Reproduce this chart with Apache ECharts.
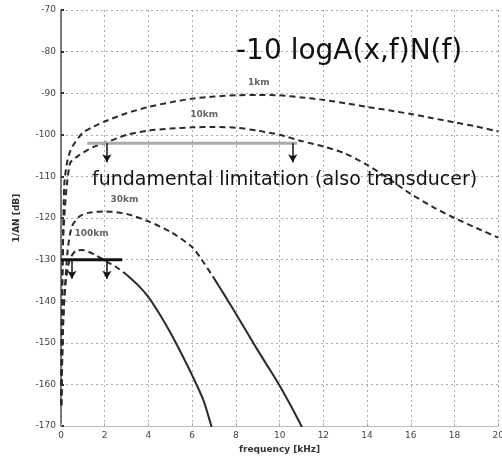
<!DOCTYPE html>
<html>
<head>
<meta charset="utf-8">
<script src="https://cdn.jsdelivr.net/npm/echarts@6/dist/echarts.min.js"></script>
<style>
  html, body { margin: 0; padding: 0; background: #fff; overflow: hidden; }
  /* the plot runs a little past the right edge of the window */
  #chart { width: 507px; height: 459px; }
</style>
</head>
<body>
<div id="chart"></div>
<script>
// Axis ticks
const xTicks = [0, 2, 4, 6, 8, 10, 12, 14, 16, 18, 20];
const yTicks = [-170, -160, -150, -140, -130, -120, -110, -100, -90, -80, -70];

// Curves: frequency [kHz] and level [dB]
const freq1km   = [0.01, 0.05, 0.15, 0.3, 0.5, 1, 1.5, 2, 3, 4, 5, 6, 7, 8, 9, 10, 11, 12, 13, 14, 15, 16, 17, 18, 19, 20];
const level1km  = [-165, -140, -112, -106, -103, -99.5, -98, -96.8, -94.8, -93.3, -92.2, -91.3, -90.8, -90.5, -90.4, -90.5, -91, -91.6, -92.4, -93.3, -94.1, -95, -96, -97, -98, -99.2];

const freq10km  = [0.01, 0.1, 0.4, 0.85, 1.45, 2, 3, 4, 5, 6, 7, 8, 9, 10, 11, 12, 13, 14, 15, 16, 17, 18, 19, 20];
const level10km = [-165, -125, -107, -104.8, -103, -102, -100, -99, -98.5, -98.2, -98.1, -98.3, -99, -100, -101.5, -102.8, -104.5, -107.2, -110.6, -114.2, -117.3, -120, -122.4, -124.7];

const freq30km  = [0.01, 0.1, 0.3, 0.5, 0.85, 1.3, 2, 3, 4, 5, 6, 6.5, 7, 7.5, 8, 8.5, 9, 9.5, 10, 10.5, 11, 11.2];
const level30km = [-165, -145, -128, -122, -119.6, -118.7, -118.4, -119, -120.8, -123.3, -127, -130.5, -134.5, -138.7, -143, -147.4, -151.8, -156, -160.3, -165, -170, -172];

const freq100km  = [0.01, 0.1, 0.2, 0.4, 0.7, 1, 1.5, 2, 2.5, 3, 3.5, 4, 4.5, 5, 5.5, 6, 6.5, 6.85, 7.2];
const level100km = [-165, -145, -136, -130, -127.8, -127.7, -128.7, -130.2, -131.7, -133.6, -136, -139, -143, -147.5, -152.5, -157.8, -163.6, -169.5, -176];

// Distance labels placed on the curves
const curveNames = ['1km', '10km', '30km', '100km'];
const curveLabelAt = [[9.05, -87.5], [6.55, -95.2], [2.9, -115.6], [1.4, -123.7]];

// Limitation lines and their arrows
const grayLimit = { level: -102, from: 1.2, to: 10.8 };
const grayArrows = [2.1, 10.6];
const blackLimit = { level: -130, from: 0, to: 2.8 };
const blackArrows = [0.5, 2.1];
const arrowDrop = 4.6;

function pairs(fs, vs, lo, hi) {
  const out = [];
  fs.forEach((f, i) => { if (f >= lo && f <= hi) out.push([f, vs[i]]); });
  return out;
}

const curveColor = '#2a2a2a';
function curve(name, fs, vs, type, lo, hi, labelAt) {
  const s = {
    type: 'line', name: name, data: pairs(fs, vs, lo, hi),
    showSymbol: false, smooth: 0.25, clip: true, z: 3,
    lineStyle: { color: curveColor, width: 2, type: type === 'dash' ? [6, 4] : 'solid' }
  };
  if (labelAt) {
    s.markPoint = {
      symbol: 'rect', symbolSize: 0,
      label: { show: true, formatter: name, color: '#666', fontSize: 9, fontFamily: 'DejaVu Sans', fontWeight: 'bold' },
      data: [{ coord: labelAt }]
    };
  }
  return s;
}

function limit(line, arrows, color, width) {
  return {
    type: 'line', data: [[line.from, line.level], [line.to, line.level]],
    showSymbol: false, z: 4,
    lineStyle: { color: color, width: width },
    markLine: {
      silent: true, symbol: ['none', 'arrow'], symbolSize: [7, 8],
      lineStyle: { color: '#111', width: 1.5, type: 'solid' },
      label: { show: false },
      data: arrows.map(f => [{ coord: [f, line.level] }, { coord: [f, line.level - arrowDrop] }])
    }
  };
}

const chart = echarts.init(document.getElementById('chart'), null, { renderer: 'canvas' });
chart.setOption({
  animation: false,
  backgroundColor: '#fff',
  grid: { left: 61, right: 1, top: 10, bottom: 32 },
  xAxis: {
    type: 'value', min: xTicks[0], max: xTicks[xTicks.length - 1], interval: 2,
    name: 'frequency [kHz]', nameLocation: 'middle', nameGap: 17,
    nameTextStyle: { fontSize: 9, color: '#333', fontFamily: 'DejaVu Sans', fontWeight: 'bold' },
    axisLine: { lineStyle: { color: '#bbb', width: 1 } },
    axisTick: { inside: true, length: 3, lineStyle: { color: '#aaa' } },
    axisLabel: { fontSize: 9, color: '#444', margin: 5, fontFamily: 'DejaVu Sans' },
    splitLine: { show: true, lineStyle: { color: '#aaa', type: [2, 3], width: 1 } }
  },
  yAxis: {
    type: 'value', min: yTicks[0], max: yTicks[yTicks.length - 1], interval: 10,
    name: '1/AN [dB]', nameLocation: 'middle', nameGap: 40, nameRotate: 90,
    nameTextStyle: { fontSize: 9, color: '#333', fontFamily: 'DejaVu Sans', fontWeight: 'bold' },
    axisLine: { show: true, lineStyle: { color: '#555', width: 1.5 } },
    axisTick: { inside: true, length: 3, lineStyle: { color: '#333', width: 2 } },
    axisLabel: { fontSize: 9, color: '#444', margin: 5, fontFamily: 'DejaVu Sans' },
    splitLine: { show: true, lineStyle: { color: '#aaa', type: [2, 3], width: 1 } }
  },
  series: [
    curve(curveNames[0], freq1km, level1km, 'dash', 0, 99, curveLabelAt[0]),
    curve(curveNames[1], freq10km, level10km, 'dash', 0, 99, curveLabelAt[1]),
    curve(curveNames[2], freq30km, level30km, 'dash', 0, 7, curveLabelAt[2]),
    curve(curveNames[2] + ' tail', freq30km, level30km, 'solid', 7, 99, null),
    curve(curveNames[3], freq100km, level100km, 'dash', 0, 3, curveLabelAt[3]),
    curve(curveNames[3] + ' tail', freq100km, level100km, 'solid', 3, 99, null),
    limit(grayLimit, grayArrows, '#aaa', 3),
    limit(blackLimit, blackArrows, '#111', 3)
  ],
  graphic: [
    { type: 'text', left: 236, top: 38, z: 10,
      style: { text: '-10 logA(x,f)N(f)', fontSize: 28, fill: '#111', fontFamily: 'DejaVu Sans' } },
    { type: 'text', left: 92, top: 171, z: 10,
      style: { text: 'fundamental limitation (also transducer)', fontSize: 19, fill: '#111', fontFamily: 'DejaVu Sans' } }
  ]
});
</script>
</body>
</html>
